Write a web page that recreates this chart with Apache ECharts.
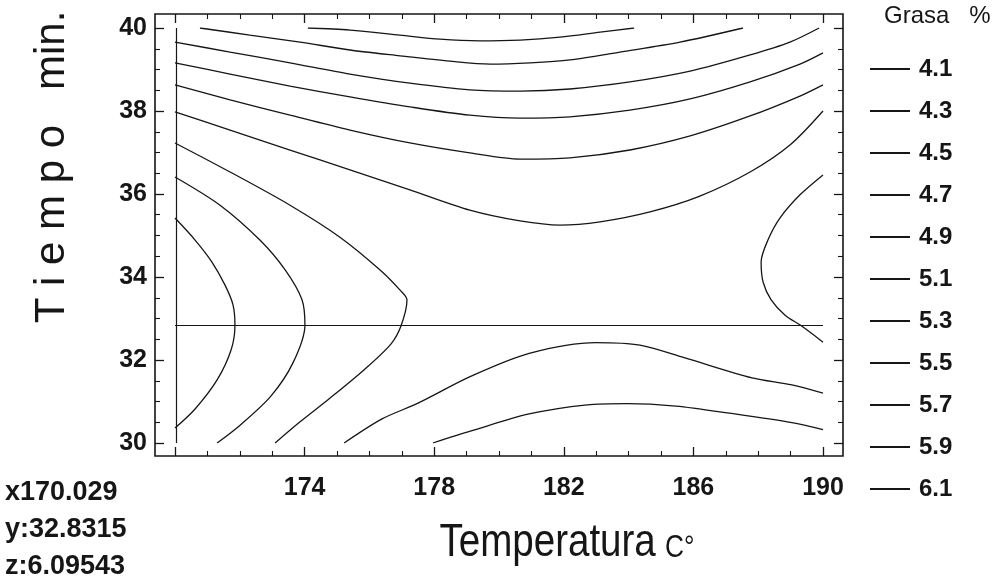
<!DOCTYPE html>
<html>
<head>
<meta charset="utf-8">
<script src="https://cdn.jsdelivr.net/npm/echarts@6/dist/echarts.min.js"></script>
<style>
	html,body{margin:0;padding:0;background:#fff;}
	#chart{width:998px;height:584px;}
</style>
</head>
<body>
<div id="chart"></div>
<script>
//----------------------------
//		Grasa % contour  (Temperatura x Tiempo)
//----------------------------
var levels	= ['4.1','4.3','4.5','4.7','4.9','5.1','5.3','5.5','5.7','5.9','6.1'];
var xTicks	= [170, 190, 4];		// min, max, step
var yTicks	= [30, 40, 2];

// cursor readout
var cursorX	= 170.029;
var cursorY	= 32.8315;
var cursorZ	= 6.09543;

// contour lines, [Temperatura, Tiempo]
var curve43 = [[174.10,40.0],[175.40,39.95],[176.94,39.83],[178.18,39.73],[179.41,39.69],[180.65,39.71],[181.88,39.78],[183.12,39.90],[184.17,40.0]];
var curve45 = [[170.77,40.0],[172.31,39.83],[173.86,39.66],[175.40,39.47],[176.94,39.33],[178.49,39.20],[179.72,39.13],[180.96,39.16],[182.19,39.23],[183.73,39.42],[185.59,39.66],[187.53,40.0]];
var curve47 = [[170,39.66],[171.70,39.42],[173.55,39.16],[175.40,38.89],[177.25,38.67],[179.10,38.51],[180.65,38.48],[182.19,38.53],[184.04,38.70],[185.90,38.96],[187.75,39.35],[188.98,39.66],[189.88,40.0]];
var curve49 = [[170,39.16],[171.70,38.89],[173.55,38.60],[175.40,38.34],[177.25,38.10],[179.10,37.90],[180.65,37.83],[182.19,37.86],[184.04,38.02],[185.90,38.29],[187.75,38.70],[189.29,39.13],[190,39.40]];
var curve51Top = [[170,38.63],[171.70,38.27],[173.55,37.90],[175.40,37.54],[177.25,37.23],[179.10,36.99],[180.65,36.84],[182.19,36.87],[184.04,37.06],[185.90,37.40],[187.75,37.88],[189.29,38.36],[190,38.63]];
var curve51Bottom = [[177.96,30.0],[179.14,30.29],[180.93,30.70],[182.72,30.92],[183.95,30.95],[185.46,30.89],[187.10,30.72],[189.04,30.49],[190,30.32]];
var curve53Top = [[170,37.98],[171.70,37.54],[173.55,37.06],[175.40,36.58],[177.25,36.10],[179.10,35.61],[180.65,35.35],[181.88,35.25],[183.12,35.33],[184.66,35.57],[186.20,35.95],[187.75,36.53],[188.98,37.18],[190,38.0]];
var curve53Bottom = [[175.22,30.0],[176.39,30.58],[177.50,30.96],[179.14,31.61],[180.93,32.16],[182.99,32.42],[184.35,32.36],[185.74,32.05],[187.81,31.57],[189.04,31.40],[190,31.20]];
var curve55Left = [[170,37.23],[171.70,36.53],[173.55,35.73],[175.09,34.96],[176.33,34.17],[176.94,33.69],[177.16,33.45],[176.98,32.83],[176.67,32.39],[175.83,31.76],[174.75,31.06],[173.86,30.51],[173.09,30.0]];
var curve55Right = [[190,36.46],[189.29,35.98],[188.67,35.42],[188.30,34.89],[188.09,34.36],[188.15,33.88],[188.40,33.45],[188.83,33.08],[189.32,32.83],[190,32.43]];
var curve57 = [[170,36.41],[171.39,35.73],[172.62,34.89],[173.40,34.17],[173.92,33.45],[174.01,32.84],[173.64,31.93],[172.96,31.13],[172.01,30.43],[171.30,30.0]];
var curve59 = [[170,35.42],[170.62,34.89],[171.14,34.36],[171.54,33.81],[171.79,33.33],[171.85,32.84],[171.73,32.24],[171.30,31.52],[170.62,30.82],[170,30.36]];

var curvesByLevel = {
	'4.1': [],
	'4.3': [curve43],
	'4.5': [curve45],
	'4.7': [curve47],
	'4.9': [curve49],
	'5.1': [curve51Top, curve51Bottom],
	'5.3': [curve53Top, curve53Bottom],
	'5.5': [curve55Left, curve55Right],
	'5.7': [curve57],
	'5.9': [curve59],
	'6.1': []
};

var numFont	= "'Liberation Sans',Arial,sans-serif";
var ink		= '#161616';

function lineSeries(InName, InData){
	return {
		name: InName,
		type: 'line',
		data: InData,
		symbol: 'none',
		showSymbol: false,
		smooth: 0.3,
		silent: true,
		lineStyle: {width: 1.3, color: ink},
		itemStyle: {color: ink}
	};
}

var series = [];
for(var i=0;i<levels.length;i++){
	var list = curvesByLevel[levels[i]];
	if(list.length==0){
		series.push(lineSeries(levels[i], []));
	}
	for(var j=0;j<list.length;j++){
		series.push(lineSeries(levels[i], list[j]));
	}
}

// cursor cross
series.push({
	name: 'cursor',
	type: 'line',
	data: [],
	silent: true,
	markLine: {
		silent: true,
		symbol: ['none','none'],
		label: {show: false},
		lineStyle: {type: 'solid', width: 1.2, color: ink},
		data: [{xAxis: cursorX}, {yAxis: cursorY}]
	}
});

function makeAxis(InDim, InPos, InOffset, InLabel){
	var t = InDim=='x' ? xTicks : yTicks;
	return {
		type: 'value',
		position: InPos,
		offset: InOffset,
		min: t[0],
		max: t[1],
		interval: t[2],
		axisLine: {show: false},
		splitLine: {show: false},
		axisTick: {show: true, inside: true, length: 9, lineStyle: {color: ink, width: 1.3}},
		minorTick: {show: true, splitNumber: 4, length: 5, lineStyle: {color: ink, width: 1.1}},
		axisLabel: InLabel ? InLabel : {show: false}
	};
}

var option = {
	animation: false,
	backgroundColor: '#fff',
	color: [ink],
	grid: {left: 175, right: 175, top: 28, bottom: 141},
	title: {
		text: 'Grasa   %',
		left: 884,
		top: 4,
		padding: 0,
		textStyle: {fontFamily: numFont, fontSize: 24, fontWeight: 'normal', color: ink}
	},
	legend: {
		data: levels,
		orient: 'vertical',
		left: 870,
		top: 56,
		padding: 0,
		itemWidth: 40,
		itemHeight: 2,
		itemGap: 16,
		icon: 'rect',
		selectedMode: false,
		textStyle: {fontFamily: numFont, fontSize: 24, lineHeight: 26, fontWeight: 'bold', color: ink, padding: [0,0,0,4]}
	},
	xAxis: [
		makeAxis('x', 'bottom', 13, {
			showMinLabel: false,
			margin: 20,
			fontFamily: numFont, fontSize: 25, fontWeight: 'bold', color: ink
		}),
		makeAxis('x', 'top', 14)
	],
	yAxis: [
		makeAxis('y', 'left', 20, {
			margin: 8,
			fontFamily: numFont, fontSize: 25, fontWeight: 'bold', color: ink
		}),
		makeAxis('y', 'right', 20)
	],
	graphic: [
		{	// frame
			type: 'rect',
			shape: {x: 155, y: 14, width: 688, height: 442},
			style: {fill: null, stroke: ink, lineWidth: 1.6},
			silent: true
		},
		{
			type: 'text',
			x: 52, y: 167,
			rotation: Math.PI/2,
			style: {text: 'T i e m p o   min.', font: "42px 'Liberation Sans',Arial,sans-serif", fill: ink, align: 'center', verticalAlign: 'middle'}
		},
		{
			type: 'text',
			x: 567, y: 543,
			scaleX: 0.82,
			style: {
				text: '{a|Temperatura} {b|C°}',
				align: 'center', verticalAlign: 'middle',
				rich: {
					a: {fontFamily: numFont, fontSize: 47, fill: ink, color: ink},
					b: {fontFamily: numFont, fontSize: 32, fill: ink, color: ink, padding: [10,0,0,8]}
				}
			}
		},
		{
			type: 'text', x: 5, y: 493,
			style: {text: 'x' + cursorX, font: 'bold 27px ' + numFont, fill: ink, verticalAlign: 'middle'}
		},
		{
			type: 'text', x: 5, y: 530,
			style: {text: 'y:' + cursorY, font: 'bold 27px ' + numFont, fill: ink, verticalAlign: 'middle'}
		},
		{
			type: 'text', x: 5, y: 567,
			style: {text: 'z:' + cursorZ, font: 'bold 27px ' + numFont, fill: ink, verticalAlign: 'middle'}
		}
	],
	series: series
};

var myChart = echarts.init(document.getElementById('chart'), null, {renderer: 'canvas'});
myChart.setOption(option);
</script>
</body>
</html>
